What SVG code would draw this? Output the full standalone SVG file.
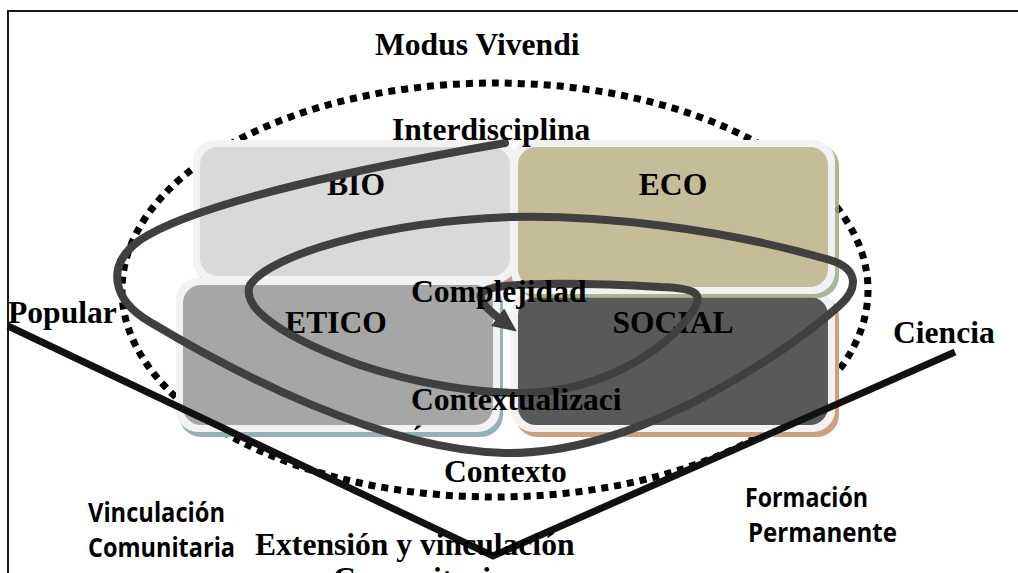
<svg xmlns="http://www.w3.org/2000/svg" width="1018" height="573" viewBox="0 0 1018 573">
<defs>
<style>
.t{font-family:"Liberation Serif","Times New Roman",serif;font-weight:bold;font-size:31.6px;fill:#000}
.s{font-family:"Open Sans","Noto Sans",sans-serif;font-weight:bold;font-size:26px;fill:#000}
.mid{text-anchor:middle}
.outer{fill:#f2f2f2}
.spiral{fill:none;stroke:#404040;stroke-width:8;stroke-linecap:round;stroke-linejoin:round}
.vline{fill:none;stroke:#111;stroke-width:7}
</style>
<marker id="arrow" markerUnits="userSpaceOnUse" markerWidth="26" markerHeight="22" refX="3" refY="11" orient="auto">
<path d="M0,0 L24,11 L0,22 z" fill="#404040"/>
</marker>
</defs>
<rect width="1018" height="573" fill="#fff"/>
<path d="M8,573 L8,11 L1018,11" fill="none" stroke="#1a1a1a" stroke-width="2"/>

<g id="ellipse">
<ellipse cx="495" cy="290" rx="373" ry="207" fill="none" stroke="#000" stroke-width="7" stroke-dasharray="7 6"/>
</g>

<g id="bio">
<rect x="197" y="145" width="324" height="143" rx="22" fill="#c29a98"/>
<rect class="outer" x="193" y="140" width="324" height="143" rx="22"/>
<rect x="200" y="147" width="310" height="129" rx="18" fill="#d9d9d9"/>
<text class="t mid" x="356" y="195">BIO</text>
</g>

<g id="etico">
<rect x="179" y="283" width="324" height="154" rx="22" fill="#93b2b8"/>
<rect class="outer" x="176" y="278" width="324" height="154" rx="22"/>
<rect x="183" y="285" width="310" height="140" rx="18" fill="#a6a6a6"/>
<text class="t mid" x="336" y="333">ETICO</text>
</g>

<g id="social">
<rect x="515" y="295" width="324" height="142" rx="22" fill="#cf9f7f"/>
<rect class="outer" x="511" y="290" width="324" height="142" rx="22"/>
<rect x="518" y="297" width="310" height="128" rx="18" fill="#595959"/>
<text class="t mid" x="673" y="333">SOCIAL</text>
</g>

<g id="eco">
<rect x="515" y="144" width="324" height="154" rx="22" fill="#9bab83" opacity="0.85"/>
<rect class="outer" x="511" y="140" width="324" height="154" rx="22"/>
<rect x="518" y="147" width="310" height="140" rx="18" fill="#c4bd97"/>
<text class="t mid" x="673" y="195">ECO</text>
</g>

<g id="connectors">
<path class="spiral" marker-end="url(#arrow)" d="M505,143 C380,165 200,200 140,240 C105,265 112,300 150,322 C230,370 380,450 505,453 C640,455 790,350 840,305 C860,287 857,268 830,260 C720,228 600,215 510,217 C380,222 270,255 250,285 C240,310 290,340 360,365 C420,385 480,393 520,393 C600,393 665,350 690,315 C705,295 700,288 660,287 C610,284 505,280 484,291 C474,297 488,310 500,319"/>
<path class="vline" d="M8,326 L493,556 L955,352"/>
</g>

<g id="labels">
<text class="t" x="375" y="55">Modus Vivendi</text>
<text class="t" x="392" y="140">Interdisciplina</text>
<text class="t" x="411" y="302">Complejidad</text>
<text class="t" x="411" y="410">Contextualizaci</text>
<text class="t" x="412" y="447">´</text>
<text class="t" x="444" y="482">Contexto</text>
<text class="t" x="8" y="323">Popular</text>
<text class="t" x="893" y="343">Ciencia</text>
<text class="t" x="255" y="555">Extensión y vinculación</text>
<text class="t" x="333" y="589">Comunitaria</text>
<text class="s" x="88" y="522" textLength="137" lengthAdjust="spacingAndGlyphs">Vinculación</text>
<text class="s" x="88" y="557" textLength="147" lengthAdjust="spacingAndGlyphs">Comunitaria</text>
<text class="s" x="745" y="507" textLength="123" lengthAdjust="spacingAndGlyphs">Formación</text>
<text class="s" x="748" y="542" textLength="149" lengthAdjust="spacingAndGlyphs">Permanente</text>
</g>
</svg>
